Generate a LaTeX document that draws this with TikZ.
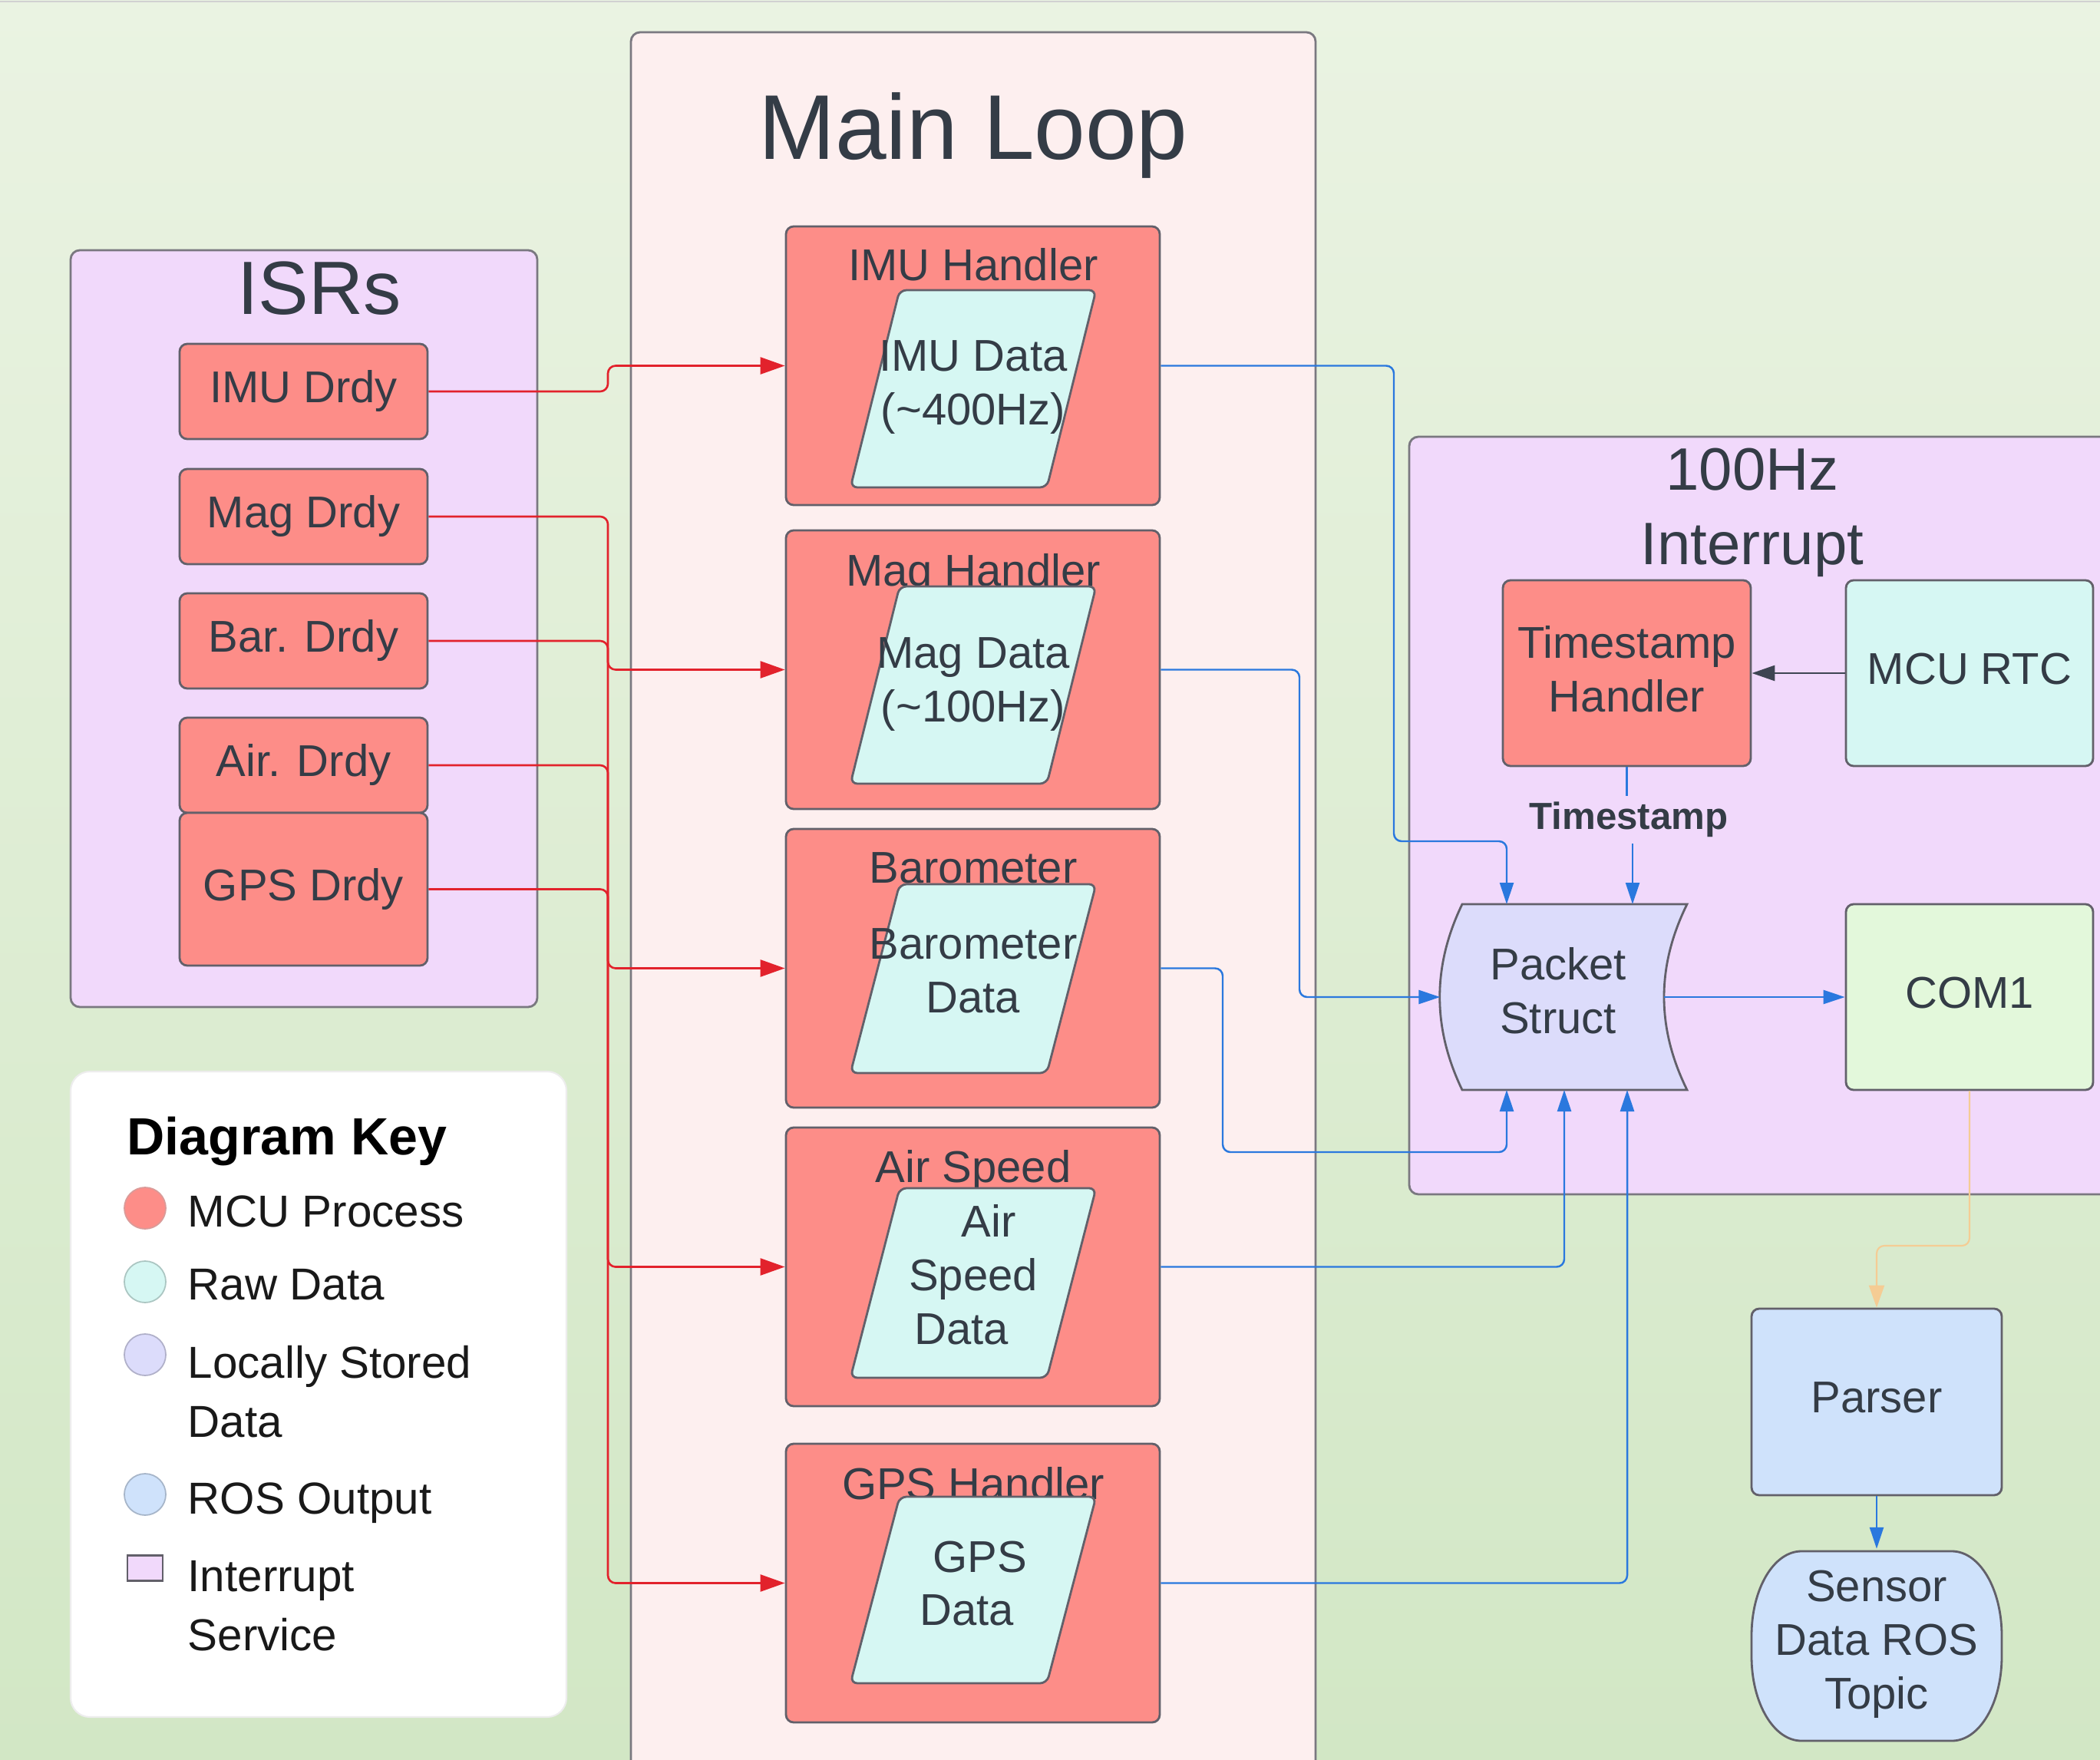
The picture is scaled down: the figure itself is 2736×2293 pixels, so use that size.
\documentclass[tikz,border=0pt]{standalone}
\usepackage{fontspec}
\setmainfont{Liberation Sans}
\usetikzlibrary{arrows.meta,calc}

\definecolor{bgtop}{HTML}{EAF3E2}
\definecolor{bgbot}{HTML}{D2E7C5}
\definecolor{loopfill}{HTML}{FDEFEF}
\definecolor{isrfill}{HTML}{F1D9FB}
\definecolor{redfill}{HTML}{FD8D88}
\definecolor{rawfill}{HTML}{D6F7F3}
\definecolor{lavfill}{HTML}{DCDCFB}
\definecolor{rosfill}{HTML}{CFE2FB}
\definecolor{comfill}{HTML}{E3F8DB}
\definecolor{edge}{HTML}{62606A}
\definecolor{txtc}{HTML}{343C46}
\definecolor{redline}{HTML}{E2222C}
\definecolor{blueline}{HTML}{2A78DE}
\definecolor{darkline}{HTML}{3E4552}
\definecolor{orangeline}{HTML}{F5CC94}

\tikzset{
  lbl/.style={inner sep=0pt, text=txtc, align=center, font=\fontsize{16.5pt}{19.9pt}\selectfont},
  box/.style={lbl, draw=edge, line width=0.8pt, rounded corners=1mm},
  mcu/.style={box, fill=redfill},
  rawbox/.style={box, fill=rawfill},
  raise/.style={text depth=0.32em},
  container/.style={draw=edge!85, line width=0.8pt, rounded corners=1.2mm, inner sep=0pt},
  para/.style={draw=edge, line width=0.8pt, fill=rawfill, rounded corners=0.9mm},
  redc/.style={draw=redline, line width=0.75pt, rounded corners=1mm, -{Triangle[length=3.2mm,width=2.2mm]}},
  bluel/.style={draw=blueline, line width=0.7pt, rounded corners=1mm},
  bluec/.style={bluel, -{Triangle[length=2.8mm,width=1.8mm]}},
  darkc/.style={draw=darkline, line width=0.8pt, -{Triangle[length=3mm,width=2mm]}},
  orangec/.style={draw=orangeline, line width=0.6pt, rounded corners=1mm, -{Triangle[length=2.9mm,width=2mm]}},
  keytxt/.style={lbl, text=black!90, align=left, anchor=west, font=\fontsize{16.6pt}{21.9pt}\selectfont},
  keydot/.style={circle, inner sep=0pt, minimum size=5.4mm, line width=0.5pt},
}

\begin{document}
\begin{tikzpicture}[x=0.1mm, y=-0.1mm]
\useasboundingbox (0,0) rectangle (2736,2293);
\clip (0,0) rectangle (2736,2293);
\shade[top color=bgtop, bottom color=bgbot] (0,0) rectangle (2736,2293);
\draw[line width=0.6pt, draw=black!18] (0,2) -- (2736,2);

% containers
\node[container, fill=isrfill, minimum width=60.8mm, minimum height=98.6mm] (isr) at (396,819) {};
\node[container, fill=loopfill, minimum width=89.2mm, minimum height=227.8mm] (loop) at (1268,1181) {};
\node[container, fill=isrfill, minimum width=92.4mm, minimum height=98.7mm] (intr) at (2298,1062.5) {};
\node[draw=black!7, fill=white, rounded corners=2.5mm, line width=0.6pt, minimum width=64.6mm, minimum height=84.1mm, inner sep=0pt] (key) at (415,1816.5) {};

% titles
\node[lbl, font=\fontsize{34.1pt}{40pt}\selectfont] (looptitle) at (1268,177) {Main Loop};
\node[lbl, font=\fontsize{28pt}{33pt}\selectfont] (isrtitle) at (416,376) {ISRs};
\node[lbl, font=\fontsize{22.2pt}{27.6pt}\selectfont] (intrtitle) at (2283,668) {100Hz\\Interrupt};

% ISR items
\node[mcu, minimum width=32.3mm, minimum height=12.4mm] (imud) at (395.5,510) {IMU Drdy};
\node[mcu, minimum width=32.3mm, minimum height=12.4mm] (magd) at (395.5,673) {Mag Drdy};
\node[mcu, minimum width=32.3mm, minimum height=12.4mm] (bard) at (395.5,835) {Bar. Drdy};
\node[mcu, minimum width=32.3mm, minimum height=12.4mm] (aird) at (395.5,997) {Air. Drdy};
\node[mcu, minimum width=32.3mm, minimum height=19.9mm] (gpsd) at (395.5,1158.5) {GPS Drdy};

% handlers
\node[mcu, minimum width=48.7mm, minimum height=36.3mm] (imuh) at (1267.5,476.5) {};
\node[mcu, minimum width=48.7mm, minimum height=36.3mm] (magh) at (1267.5,872.5) {};
\node[mcu, minimum width=48.7mm, minimum height=36.3mm] (baroh) at (1267.5,1261.5) {};
\node[mcu, minimum width=48.7mm, minimum height=36.3mm] (airh) at (1267.5,1650.5) {};
\node[mcu, minimum width=48.7mm, minimum height=36.3mm] (gpsh) at (1267.5,2062.5) {};

\node[lbl] (imut) at (1268,345) {IMU Handler};
\node[lbl] (magt) at (1268,749) {Mag Handler};
\node[lbl] (barot) at (1268,1131) {Barometer};
\node[lbl] (airt) at (1268,1525) {Air Speed};
\node[lbl] (gpst) at (1268,1933) {GPS Handler};

% raw data parallelograms
\draw[para] (1172,378) -- (1428,378) -- (1364,635) -- (1108,635) -- cycle;
\draw[para] (1172,764) -- (1428,764) -- (1364,1021) -- (1108,1021) -- cycle;
\draw[para] (1172,1152) -- (1428,1152) -- (1364,1398) -- (1108,1398) -- cycle;
\draw[para] (1172,1548) -- (1428,1548) -- (1364,1795) -- (1108,1795) -- cycle;
\draw[para] (1172,1950) -- (1428,1950) -- (1364,2193) -- (1108,2193) -- cycle;

\node[lbl] (imudata) at (1268,505) {IMU Data\\(\textasciitilde400Hz)};
\node[lbl] (magdata) at (1268,892) {Mag Data\\(\textasciitilde100Hz)};
\node[lbl] (barodata) at (1268,1265) {Barometer\\Data};
\node[lbl] (airdata) at (1268,1661) {\hspace*{4mm}Air\\Speed\\Data\hspace*{3mm}};
\node[lbl] (gpsdata) at (1268,2063) {\hspace*{1.8mm}GPS\\Data\hspace*{1.6mm}};

% interrupt contents
\node[mcu, raise, minimum width=32.3mm, minimum height=24.2mm] (th) at (2119.5,877) {Timestamp\\Handler};
\node[rawbox, raise, minimum width=32.2mm, minimum height=24.2mm] (rtc) at (2566,877) {MCU RTC};
\node[box, raise, fill=comfill, minimum width=32.2mm, minimum height=24.2mm] (com) at (2566,1299) {COM1};

\node[inner sep=0pt, minimum width=32.1mm, minimum height=24.2mm] (pk) at (2037.5,1299) {};
\draw[draw=edge, line width=0.8pt, fill=lavfill] (1905,1178) -- (2198,1178)
  .. controls (2158,1259) and (2158,1339) .. (2198,1420) -- (1905,1420)
  .. controls (1866,1339) and (1866,1259) .. (1905,1178) -- cycle;
\node[lbl] (pklabel) at (2030,1291) {Packet\\Struct};

\node[lbl, font=\fontsize{14pt}{16pt}\selectfont\bfseries, minimum height=6.1mm] (tslabel) at (2122,1068) {Timestamp};

% ROS side
\node[box, raise, fill=rosfill, minimum width=32.6mm, minimum height=24.3mm] (parser) at (2445,1826.5) {Parser};
\draw[draw=edge, line width=0.8pt, fill=rosfill] (2347,2021) -- (2543,2021)
  .. controls (2579,2021) and (2608,2070) .. (2608,2131) -- (2608,2158)
  .. controls (2608,2219) and (2579,2268) .. (2543,2268) -- (2347,2268)
  .. controls (2311,2268) and (2282,2219) .. (2282,2158) -- (2282,2131)
  .. controls (2282,2070) and (2311,2021) .. (2347,2021) -- cycle;
\node[lbl, minimum width=32.6mm, minimum height=24.7mm] (sensor) at (2445,2142) {Sensor\\Data ROS\\Topic};

% key
\node[lbl, anchor=west, text=black, font=\fontsize{19.4pt}{23pt}\selectfont\bfseries] (keytitle) at (165,1487) {Diagram Key};
\node[keydot, fill=redfill, draw=redfill!80!black!70] (k1) at (189,1574) {};
\node[keydot, fill=rawfill, draw=rawfill!80!black] (k2) at (189,1670) {};
\node[keydot, fill=lavfill, draw=lavfill!80!black] (k3) at (189,1765) {};
\node[keydot, fill=rosfill, draw=rosfill!80!black] (k4) at (189,1947) {};
\node[draw=edge, fill=isrfill, line width=0.6pt, minimum width=4.6mm, minimum height=3.3mm, inner sep=0pt] (k5) at (189,2043) {};
\node[keytxt] (k1t) at (244,1578) {MCU Process};
\node[keytxt] (k2t) at (244,1674) {Raw Data};
\node[keytxt] (k3t) at (244,1813) {Locally Stored\\Data};
\node[keytxt] (k4t) at (244,1958) {ROS Output};
\node[keytxt] (k5t) at (244,2092) {Interrupt\\Service};

% coordinates
\coordinate (trunk) at (792,0);
\coordinate (jog1) at (1816,1096);
\coordinate (bx2) at (1693,0);
\coordinate (jog3) at (1593,1501);
\coordinate (pkT1) at (1963,1178);
\coordinate (pkT2) at (2127,1178);
\coordinate (pkB1) at (1963,1420);
\coordinate (pkB2) at (2038,1420);
\coordinate (pkB3) at (2120,1420);
\coordinate (pkE) at (2168,1299);
\coordinate (ob) at (2445,1623);

% red connectors
\draw[redc] (imud.east) -| (trunk |- imuh.west) -- (imuh.west);
\draw[redc] (magd.east) -| (trunk |- magh.west) -- (magh.west);
\draw[redc] (bard.east) -| (trunk |- baroh.west) -- (baroh.west);
\draw[redc] (aird.east) -| (trunk |- airh.west) -- (airh.west);
\draw[redc] (gpsd.east) -| (trunk |- gpsh.west) -- (gpsh.west);

% blue connectors
\draw[bluec] (imuh.east) -| (jog1) -| (pkT1);
\draw[bluec] (magh.east) -| (bx2 |- pk.west) -- (pk.west);
\draw[bluec] (baroh.east) -| (jog3) -| (pkB1);
\draw[bluec] (airh.east) -| (pkB2);
\draw[bluec] (gpsh.east) -| (pkB3);
\draw[bluel] (th.south) -- (th.south |- tslabel.north);
\draw[bluec] (tslabel.south -| pkT2) -- (pkT2);
\draw[bluec] (pkE) -- (com.west);
\draw[bluec] (parser.south) -- (sensor.north);
\draw[darkc] (rtc.west) -- (th.east);
\draw[orangec] (com.south) |- (ob) -- (parser.north);
\end{tikzpicture}
\end{document}
